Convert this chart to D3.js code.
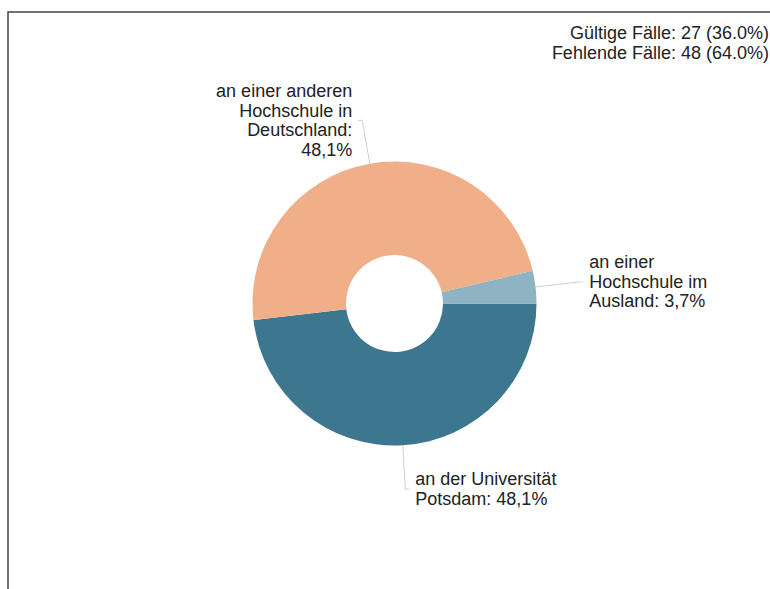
<!DOCTYPE html>
<html>
<head>
<meta charset="utf-8">
<script src="https://cdn.jsdelivr.net/npm/d3@7"></script>
<style>
  html, body { margin: 0; padding: 0; background: #fff; }
  svg { display: block; font-family: "Liberation Sans", Arial, sans-serif; }
</style>
</head>
<body>
<svg id="chart" width="770" height="589"></svg>
<script>
// categories in drawing order (clockwise from 3 o'clock)
const categories = ['Potsdam', 'andere', 'Ausland']
// counts of valid answers
const counts = [13, 13, 1]
// label lines for every slice
const labelLines = [
  ['an der Universität', 'Potsdam: 48,1%'],
  ['an einer anderen', 'Hochschule in', 'Deutschland:', '48,1%'],
  ['an einer', 'Hochschule im', 'Ausland: 3,7%']
]
const colors = ['#3c778f', '#f0af89', '#8eb3c3']
// info text top right
const infoLines = ['Gültige Fälle: 27 (36.0%)', 'Fehlende Fälle: 48 (64.0%)']

function makeDonut() {
  const svg = d3.select('#chart')
  const cx = 394.5
  const cy = 303.5
  const radius = 142
  const inner = 48.5

  // frame (only left and top edges are visible)
  svg.append('rect')
    .attr('x', 8).attr('y', 12)
    .attr('width', 800).attr('height', 620)
    .attr('fill', 'none')
    .attr('stroke', '#444')
    .attr('stroke-width', 1.5)

  const color = d3.scaleOrdinal().domain(categories).range(colors)

  const pie = d3.pie()
    .sort(null)
    .startAngle(Math.PI / 2)
    .endAngle(Math.PI / 2 + 2 * Math.PI)
  const arc = d3.arc().innerRadius(inner).outerRadius(radius)
  const pieData = pie(counts)

  const g = svg.append('g').attr('transform', `translate(${cx}, ${cy})`)

  g.selectAll('path')
    .data(pieData)
    .enter()
    .append('path')
    .attr('d', arc)
    .attr('fill', (d, i) => color(categories[i]))

  // leader lines + labels
  const lineH = 19.5
  pieData.forEach((d, i) => {
    const mid = (d.startAngle + d.endAngle) / 2
    const sx = Math.sin(mid), sy = -Math.cos(mid)
    const p0 = [sx * radius, sy * radius]
    const p1 = [sx * (radius + 44), sy * (radius + 44)]
    const dir = sx >= 0 ? 1 : -1
    const p2 = [p1[0] + dir * 4, p1[1]]
    g.append('polyline')
      .attr('points', [p0, p1, p2].map(p => p.join(',')).join(' '))
      .attr('fill', 'none')
      .attr('stroke', '#cfcfcf')
      .attr('stroke-width', 1)

    const lines = labelLines[i]
    const top = p2[1] - (lines.length - 1) * lineH / 2 + 6
    const t = g.append('text')
      .attr('text-anchor', dir > 0 ? 'start' : 'end')
      .attr('font-size', 18)
      .attr('fill', '#222')
    lines.forEach((s, j) => {
      t.append('tspan')
        .attr('x', p2[0] + dir * 6)
        .attr('y', top + j * lineH)
        .text(s)
    })
  })

  // info text
  const info = svg.append('text')
    .attr('text-anchor', 'end')
    .attr('font-size', 18)
    .attr('fill', '#222')
  infoLines.forEach((s, j) => {
    info.append('tspan').attr('x', 769).attr('y', 39 + j * 19.5).text(s)
  })
}

window.onload = makeDonut
</script>
</body>
</html>
